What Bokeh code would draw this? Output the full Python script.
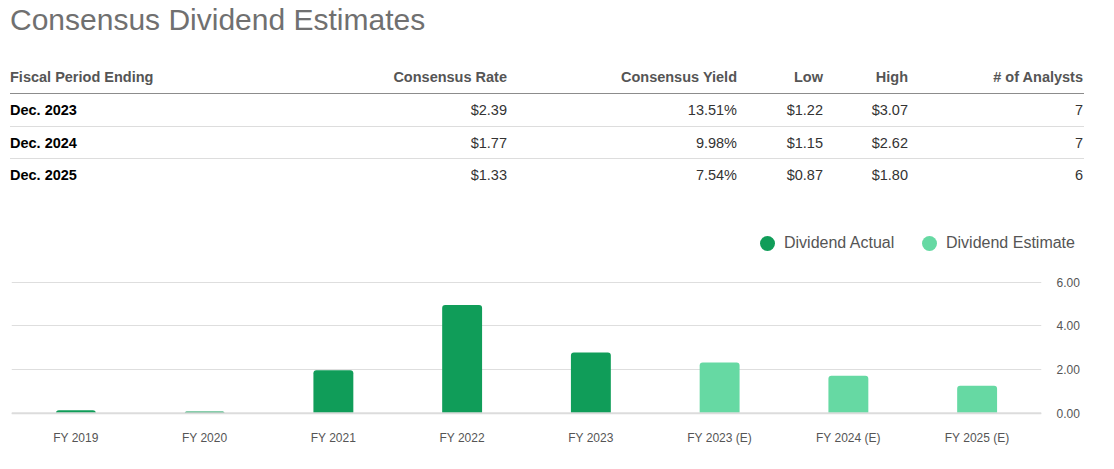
from bokeh.plotting import figure
from bokeh.models import (Div, Range1d, FactorRange, FixedTicker, Span, CustomJSTickFormatter)
from bokeh.layouts import column
from bokeh.embed import file_html
from bokeh.resources import INLINE

# ---------------- data ----------------
title_text = "Consensus Dividend Estimates"
table_headers = ["Fiscal Period Ending", "Consensus Rate", "Consensus Yield", "Low", "High", "# of Analysts"]
fiscal_periods = ["Dec. 2023", "Dec. 2024", "Dec. 2025"]
consensus_rate = ["$2.39", "$1.77", "$1.33"]
consensus_yield = ["13.51%", "9.98%", "7.54%"]
low_est = ["$1.22", "$1.15", "$0.87"]
high_est = ["$3.07", "$2.62", "$1.80"]
num_analysts = ["7", "7", "6"]

categories = ["FY 2019", "FY 2020", "FY 2021", "FY 2022", "FY 2023",
              "FY 2023 (E)", "FY 2024 (E)", "FY 2025 (E)"]
actual_periods = ["FY 2019", "FY 2020", "FY 2021", "FY 2022", "FY 2023"]
actual_values = [0.14, 0.08, 1.97, 4.96, 2.78]
estimate_periods = ["FY 2023 (E)", "FY 2024 (E)", "FY 2025 (E)"]
estimate_values = [2.32, 1.72, 1.26]
legend_labels = ["Dividend Actual", "Dividend Estimate"]
y_ticks = [0, 2, 4, 6]

ACTUAL = "#109d59"
ESTIMATE = "#66d9a3"
FONT = "Liberation Sans"

# ---------------- title + table + legend (HTML) ----------------
col_widths = [290, 207, 230, 86, 85, 175]
col_align = ["left", "right", "right", "right", "right", "right"]
row_heights = [33, 32, 33]

def row_html(cells, height, border, header=False):
    out = [f'<div style="display:flex;height:{height}px;line-height:{height}px;'
           f'border-bottom:{border};width:1074px;">']
    for i, c in enumerate(cells):
        if header:
            st = "font-weight:bold;color:#555555;"
        elif i == 0:
            st = "font-weight:bold;color:#000000;"
        else:
            st = "color:#333333;"
        out.append(f'<div style="width:{col_widths[i]}px;flex:none;text-align:{col_align[i]};'
                   f'white-space:nowrap;{st}">{c}</div>')
    out.append('</div>')
    return "".join(out)

rows = [row_html(table_headers, 33, "1px solid #8c8c8c", header=True)]
for i in range(len(fiscal_periods)):
    cells = [fiscal_periods[i], consensus_rate[i], consensus_yield[i],
             low_est[i], high_est[i], num_analysts[i]]
    border = "1px solid #dddddd" if i < len(fiscal_periods) - 1 else "none"
    rows.append(row_html(cells, row_heights[i], border))

def legend_item(left, color, label):
    return (f'<div style="position:absolute;left:{left}px;top:227px;height:16px;'
            f'line-height:16px;white-space:nowrap;font-size:16px;color:#555555;">'
            f'<span style="position:absolute;left:-24.5px;top:0.5px;width:15px;height:15px;'
            f'border-radius:50%;background:{color};"></span>{label}</div>')

html = (f'<div style="position:relative;width:1098px;height:254px;'
        f'font-family:\'{FONT}\',Arial,sans-serif;margin:0;padding:0;">'
        f'<div style="height:53px;padding-left:2px;font-size:30px;line-height:24px;'
        f'color:#707070;white-space:nowrap;">{title_text}</div>'
        f'<div style="margin-left:2px;font-size:14.5px;">' + "".join(rows) + '</div>'
        + legend_item(776, ACTUAL, legend_labels[0])
        + legend_item(938, ESTIMATE, legend_labels[1])
        + '</div>')

div = Div(text=html, width=1098, height=254, margin=0)

# ---------------- chart ----------------
p = figure(x_range=FactorRange(*categories, range_padding=0),
           y_range=Range1d(-0.1, 6.9),
           frame_width=1030, frame_height=153,
           min_border_left=3, min_border_right=0, min_border_top=0, min_border_bottom=8,
           output_backend="svg", toolbar_location=None, tools="",
           y_axis_location="right", margin=0)
p.outline_line_color = None
p.background_fill_color = "white"
p.border_fill_color = "white"

p.vbar(x=actual_periods, top=actual_values, width=0.31, bottom=0,
       fill_color=ACTUAL, line_color=None, border_radius=(3, 3, 0, 0))
p.vbar(x=estimate_periods, top=estimate_values, width=0.31, bottom=0,
       fill_color=ESTIMATE, line_color=None, border_radius=(3, 3, 0, 0))

p.xgrid.grid_line_color = None
p.ygrid.grid_line_color = "#dedede"
p.ygrid.grid_line_width = 1
p.ygrid.ticker = FixedTicker(ticks=y_ticks)

p.add_layout(Span(location=0, dimension="width", line_color="#dcdcdc", line_width=2))

xa = p.xaxis[0]
xa.axis_line_color = None
xa.major_tick_line_color = None
xa.minor_tick_line_color = None
xa.major_label_standoff = 9
xa.major_label_text_font = FONT
xa.major_label_text_font_size = "12px"
xa.major_label_text_color = "#555555"

ya = p.yaxis[0]
ya.ticker = FixedTicker(ticks=y_ticks)
ya.axis_line_color = None
ya.major_tick_line_color = None
ya.minor_tick_line_color = None
ya.major_tick_out = 0
ya.major_label_standoff = 15
ya.major_label_text_font = FONT
ya.major_label_text_font_size = "12px"
ya.major_label_text_color = "#555555"
ya.formatter = CustomJSTickFormatter(code="return tick.toFixed(2);")

layout = column(div, p, spacing=0, margin=(8, 8, 8, 8))

open("out.html", "w").write(file_html(layout, INLINE))
